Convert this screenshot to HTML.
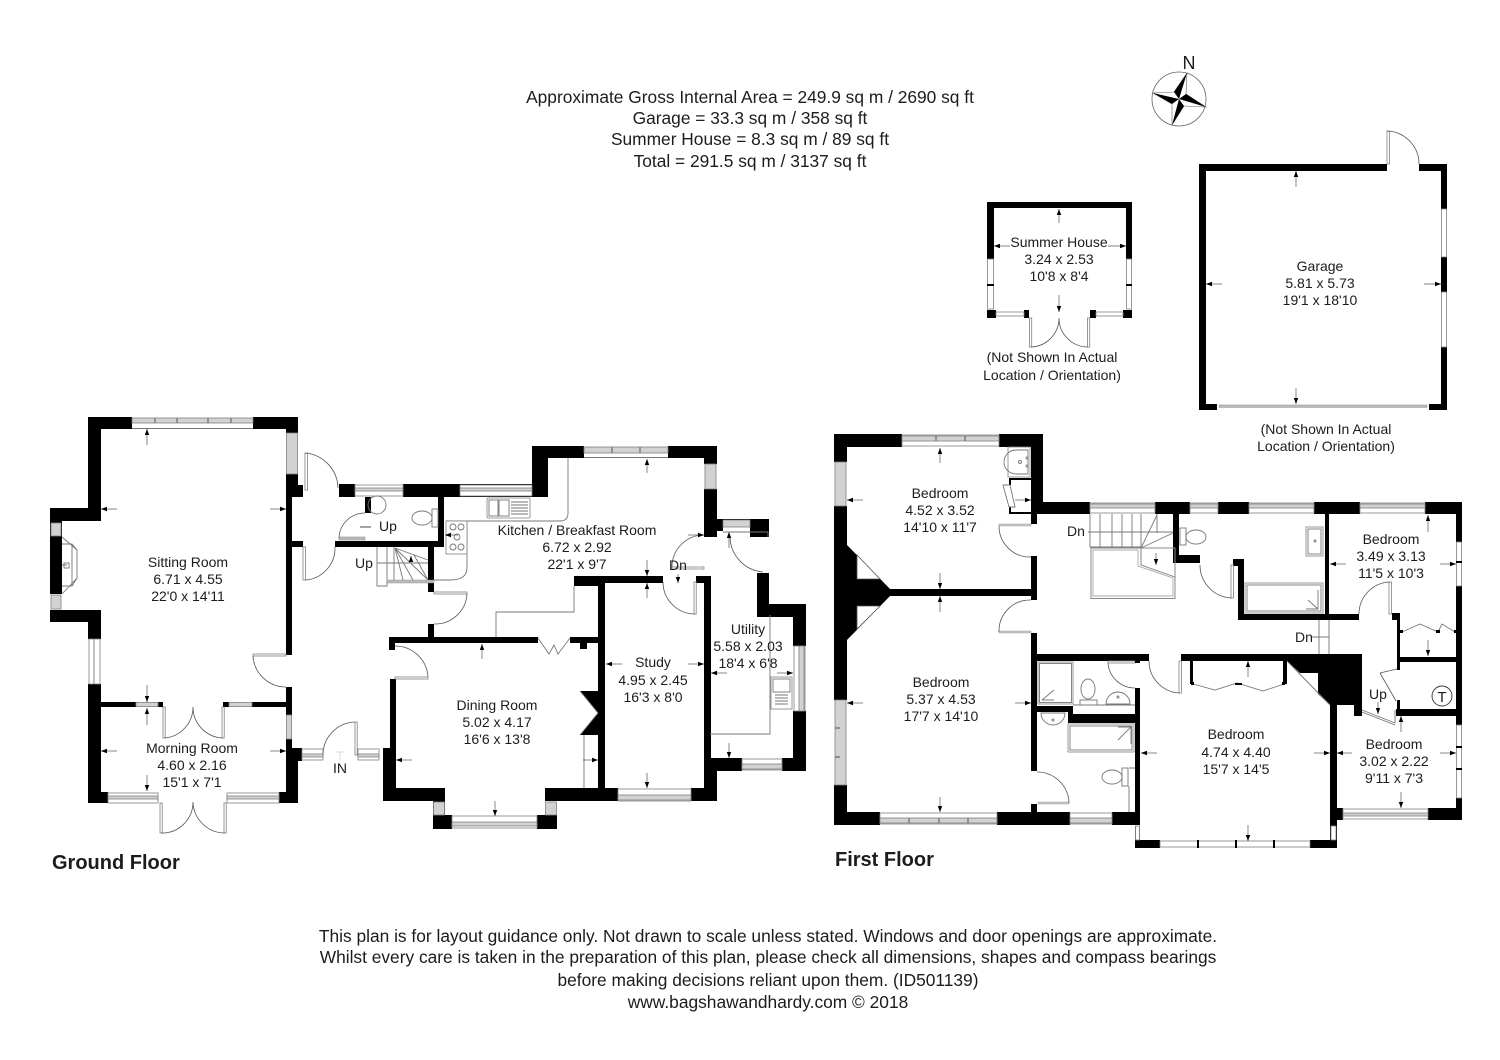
<!DOCTYPE html>
<html lang="en"><head><meta charset="utf-8"><title>Floor plan</title>
<style>
html,body{margin:0;padding:0;background:#fff}
svg{display:block}
text{font-family:"Liberation Sans",sans-serif;font-size:14px;fill:#1c1c1c;text-anchor:middle}
.h{font-size:17.35px}
.b{font-weight:bold;font-size:20px;text-anchor:start}
.k{fill:#000;stroke:none}
.w{fill:#d2d2d2;stroke:#808080;stroke-width:.8}
.l{fill:#fff;stroke:#808080;stroke-width:.8}
.t{fill:none;stroke:#777;stroke-width:.9}
.d{fill:none;stroke:#555;stroke-width:.8}
.a{fill:none;stroke:#555;stroke-width:.7;marker-end:url(#m)}
.mu{fill:none;stroke:#777;stroke-width:1.4}
</style></head><body>
<svg width="1500" height="1060" viewBox="0 0 1500 1060" xmlns="http://www.w3.org/2000/svg">
<defs><marker id="m" markerUnits="userSpaceOnUse" markerWidth="7" markerHeight="6" refX="6" refY="3" orient="auto"><path d="M0 .8L6 3L0 5.2z" fill="#000"/></marker></defs>
<rect width="1500" height="1060" fill="#fff"/>

<!-- header -->
<text class="h" x="750" y="103">Approximate Gross Internal Area = 249.9 sq m / 2690 sq ft</text>
<text class="h" x="750" y="124">Garage = 33.3 sq m / 358 sq ft</text>
<text class="h" x="750" y="145">Summer House = 8.3 sq m / 89 sq ft</text>
<text class="h" x="750" y="167">Total = 291.5 sq m / 3137 sq ft</text>

<!-- compass -->
<text x="1189" y="69" style="font-size:18px">N</text>
<circle cx="1179" cy="99" r="27" fill="#fff" stroke="#666" stroke-width=".8"/>
<path d="M1187 73L1186 94L1206 107L1184 106L1172 125L1172 104L1153 93L1174 92z" fill="#fff" stroke="#666" stroke-width=".6"/>
<path class="k" d="M1187 73L1179 99L1174 92zM1206 107L1179 99L1186 94zM1172 125L1179 99L1184 106zM1153 93L1179 99L1172 104z"/>

<!-- summer house -->
<path class="k" d="M987 202H1132V259H1126V208H994V259H987zM987 310H996V318H987zM1024 310H1029V318H1024zM1090 310H1096V318H1090zM1123 310H1132V318H1123z"/>
<rect class="l" x="987.5" y="259" width="6" height="50"/><rect class="l" x="1126.5" y="259" width="5" height="50"/>
<path class="k" d="M987 284h7v2h-7zM1126 284h6v2h-6z"/>
<rect class="l" x="996" y="312" width="28" height="4"/><rect class="l" x="1096" y="312" width="27" height="4"/>
<rect class="l" x="1029.5" y="318" width="2.2" height="29"/><rect class="l" x="1087.5" y="318" width="2.2" height="29"/>
<path class="d" d="M1031 347A29 29 0 0 0 1059 318M1088 347A29 29 0 0 1 1059 318"/>
<text x="1059" y="247">Summer House</text><text x="1059" y="264">3.24 x 2.53</text><text x="1059" y="281">10'8 x 8'4</text>
<text x="1052" y="362">(Not Shown In Actual</text><text x="1052" y="380">Location / Orientation)</text>
<path class="a" d="M1059 223V209"/><path class="a" d="M1010 246H994"/><path class="a" d="M1108 246H1126"/><path class="a" d="M1059 295V312"/>

<!-- garage -->
<path class="k" d="M1199 164H1387V171H1206V404H1217V410H1199zM1419 164H1447V209H1441V171H1419zM1441 257H1447V292H1441zM1441 347H1447V410H1429V404H1441z"/>
<rect class="l" x="1441.5" y="209" width="5" height="48"/><rect class="l" x="1441.5" y="292" width="5" height="55"/>
<rect x="1219" y="405" width="208" height="2.4" fill="#bdbdbd" stroke="#888" stroke-width=".5"/>
<rect class="l" x="1387" y="131" width="2.4" height="33"/>
<path class="d" d="M1387 131A33 33 0 0 1 1419 164"/>
<text x="1320" y="271">Garage</text><text x="1320" y="288">5.81 x 5.73</text><text x="1320" y="305">19'1 x 18'10</text>
<text x="1326" y="434">(Not Shown In Actual</text><text x="1326" y="451">Location / Orientation)</text>
<path class="a" d="M1296 187V171"/><path class="a" d="M1222 284H1206"/><path class="a" d="M1424 284H1441"/><path class="a" d="M1296 388V404"/>

<!-- GROUND FLOOR walls -->
<path class="k" d="M88 417H132V429H101V521H62V537H50V508H88z"/>
<path class="k" d="M50 537H62V594H50zM50 610H101V639H88V622H50z"/>
<path class="k" d="M88 684H101V792H108V803H88z"/>
<path class="k" d="M253 417H298V433H286V429H253z"/>
<path class="k" d="M286 474H298V485H303V497H292V655H286z"/>
<path class="k" d="M292 541H303V547H292z"/>
<path class="k" d="M286 687H292V715H286zM286 739H292V748H302V761H298V803H279V792H286z"/>
<path class="k" d="M101 702H136V707H101zM158 702H163V707H158zM223 702H229V707H223zM252 702H286V707H252z"/>
<path class="k" d="M339 484H355V497H339zM403 484H532V446H584V458H548V497H444V547H335V541H438V497H403z"/>
<path class="k" d="M365 497H371V513H365zM428 547H434V592H428zM428 624H434V637H428z"/>
<path class="k" d="M668 446H717V464H704V458H668z"/>
<path class="k" d="M704 489H717V519H750V519H769V537H750V527H723V531H717V537H704z"/>
<rect class="k" x="704" y="489" width="13" height="42"/>
<path class="k" d="M389 637H538V643H395V650H389zM570 637H598V586H574V576H663V583H605V788H618V801H545V815H537V829H557V815H545V801H545V788H598V643H587V649H580V643H570z"/>
<path class="k" d="M696 576H711V788H717V801H691V788H704V583H696z"/>
<path class="k" d="M711 758H742V771H717V801H711z"/>
<path class="k" d="M757 573H769V604H806V646H793V617H757zM793 711H806V771H782V758H793z"/>
<path class="k" d="M390 679H396V788H445V801H433V829H452V815H445V801H383V748H390z"/>
<path class="k" d="M580 691H598V735H580L598 713z"/>
<path class="k" d="M537 815H557V829H537z"/>
<!-- windows GF -->
<rect class="w" x="132" y="418" width="121" height="5"/><path class="t" d="M132 428.500H253"/>
<path class="mu" d="M155 418v5M177 418v5M208 418v5M231 418v5"/>
<rect class="w" x="286.500" y="433" width="11" height="41"/>
<rect class="w" x="51" y="523" width="10" height="13"/><rect class="w" x="51" y="595" width="10" height="14"/>
<rect class="l" x="89" y="639" width="11" height="45"/><path class="t" d="M94 639V684"/>
<rect class="l" x="108" y="793" width="50" height="10"/><rect class="w" x="108" y="796" width="50" height="3"/>
<rect class="l" x="227" y="793" width="52" height="10"/><rect class="w" x="227" y="796" width="52" height="3"/>
<rect class="w" x="136" y="702.500" width="22" height="4"/><rect class="w" x="229" y="702.500" width="23" height="4"/>
<rect class="w" x="286.500" y="715" width="5" height="24"/>
<rect class="l" x="355" y="485" width="48" height="11"/><rect class="w" x="355" y="488" width="48" height="3"/>
<rect class="l" x="460" y="485" width="72" height="11"/><rect class="w" x="460" y="488" width="72" height="3"/>
<rect class="w" x="584" y="447" width="84" height="6"/><path class="t" d="M584 457.500H668"/>
<path class="mu" d="M612 447v6M640 447v6"/>
<rect class="w" x="705" y="464" width="11" height="25"/>
<rect class="w" x="723" y="520" width="27" height="7"/><path class="t" d="M723 532H768V537"/>
<rect class="l" x="794" y="646" width="11" height="65"/><rect class="w" x="799" y="646" width="5" height="65"/>
<rect class="l" x="742" y="759" width="40" height="11"/><rect class="w" x="742" y="764" width="40" height="5"/>
<rect class="l" x="618" y="789" width="73" height="12"/><rect class="w" x="618" y="795" width="73" height="5"/>
<rect class="l" x="302" y="749" width="21" height="11"/><rect class="w" x="302" y="754" width="21" height="3"/>
<rect class="l" x="358" y="749" width="21" height="11"/><rect class="w" x="358" y="754" width="21" height="3"/>
<rect class="w" x="433.500" y="802" width="11" height="13"/><rect class="w" x="545.500" y="802" width="11" height="13"/>
<rect class="l" x="452" y="816" width="85" height="12"/><rect class="w" x="452" y="822" width="85" height="4"/>
<!-- fireplace GF -->
<path class="t" d="M62 537L77 550V578L62 594M62 544H72L77 550M62 586H72L77 578M72 544V586M62 565H67"/>
<rect class="t" x="64" y="563" width="5" height="5"/>
<!-- doors GF -->
<rect class="l" x="305" y="453" width="2.6" height="37"/><path class="d" d="M305 453A36 36 0 0 1 338 488"/>
<rect x="339" y="537" width="26" height="3" fill="#bbb" stroke="#888" stroke-width=".5"/><path class="d" d="M365 513A26 26 0 0 0 339 538"/>
<rect class="l" x="303" y="547" width="2.6" height="33"/><path class="d" d="M335 547A32 32 0 0 1 305 580"/>
<rect class="l" x="253" y="654" width="33" height="2"/><path class="d" d="M253 656A33 33 0 0 0 286 687"/>
<rect class="l" x="163" y="707" width="2.2" height="31"/><rect class="l" x="222" y="707" width="2.2" height="31"/>
<path class="d" d="M164 738A31 31 0 0 0 193 707M223 738A31 31 0 0 1 193 707"/>
<rect class="l" x="160" y="803" width="2.2" height="30"/><rect class="l" x="224" y="803" width="2.2" height="30"/>
<path class="d" d="M161 833A31 31 0 0 0 193 802M225 833A32 32 0 0 1 193 802"/>
<rect class="l" x="355" y="722" width="2.2" height="33"/><path class="d" d="M323 755A33 33 0 0 1 355 722"/>
<rect class="l" x="395" y="677" width="33" height="2"/><path class="d" d="M395 646A33 33 0 0 1 428 677"/>
<rect class="l" x="434" y="592" width="33" height="2"/><path class="d" d="M467 594A32 32 0 0 1 434 624"/>
<rect class="l" x="672" y="567" width="32" height="2"/><path class="d" d="M704 535A32 32 0 0 0 672 567"/>
<rect class="l" x="694" y="582" width="2.2" height="32"/><path class="d" d="M663 582A32 32 0 0 0 695 614"/>
<path class="d" d="M730 537A36 36 0 0 0 763 572"/>
<path class="t" d="M538 638L549 654L554 645L558 654L570 638"/>
<!-- stairs GF -->
<path class="t" d="M377 547V586H387V581H428M387 547V581M394 547V581M377 563H428M395 548L428 560M395 548L428 580M395 548L413 580M395 548L403 580M414 555L428 580"/>
<rect x="387" y="580" width="47" height="3" fill="#bbb" stroke="#888" stroke-width=".4"/>
<path class="a" d="M411 562V556"/>
<text x="364" y="568">Up</text><text x="388" y="531">Up</text>
<path class="t" d="M371 527H360" style="stroke:#333"/>
<!-- kitchen units -->
<path class="t" d="M568 458V513Q568 521 560 521H446M467 521V568Q467 580 450 580H434M574 586V612H496V637M584 735V788M710 734H770V615"/>
<rect class="l" x="446" y="521" width="21" height="33"/>
<g class="t"><circle cx="453" cy="527" r="3"/><circle cx="461" cy="527" r="3"/><circle cx="457" cy="537" r="3"/><circle cx="453" cy="547" r="3"/><circle cx="461" cy="547" r="3"/></g>
<rect class="l" x="487" y="498" width="43" height="20" rx="1"/>
<rect class="t" x="489" y="500" width="9" height="16"/><rect class="t" x="499" y="500" width="10" height="16"/>
<path class="t" d="M511 502H528M511 505H528M511 508H528M511 511H528M511 514H528"/>
<rect class="l" x="771" y="677" width="21" height="32"/><rect class="t" x="773" y="679" width="17" height="13"/>
<path class="t" d="M775 695H788M775 698H788M775 701H788M775 704H788"/>
<!-- WC GF -->
<ellipse class="t" cx="422" cy="518" rx="10" ry="7"/><rect class="t" x="432" y="509" width="6" height="18"/>
<circle class="t" cx="377" cy="505" r="9"/>
<!-- chimney dining outline -->
<path class="t" d="M580 691L598 713L580 735"/>
<!-- GF labels -->
<text x="188" y="567">Sitting Room</text><text x="188" y="584">6.71 x 4.55</text><text x="188" y="601">22'0 x 14'11</text>
<text x="192" y="753">Morning Room</text><text x="192" y="770">4.60 x 2.16</text><text x="192" y="787">15'1 x 7'1</text>
<text x="577" y="535">Kitchen / Breakfast Room</text><text x="577" y="552">6.72 x 2.92</text><text x="577" y="569">22'1 x 9'7</text>
<text x="497" y="710">Dining Room</text><text x="497" y="727">5.02 x 4.17</text><text x="497" y="744">16'6 x 13'8</text>
<text x="653" y="667">Study</text><text x="653" y="685">4.95 x 2.45</text><text x="653" y="702">16'3 x 8'0</text>
<text x="748" y="634">Utility</text><text x="748" y="651">5.58 x 2.03</text><text x="748" y="668">18'4 x 6'8</text>
<text x="678" y="570">Dn</text><text x="340" y="773">IN</text>
<text class="b" x="52" y="869">Ground Floor</text>
<!-- GF arrows -->
<path class="a" d="M147 445V429"/><path class="a" d="M117 509H101"/><path class="a" d="M270 509H286"/><path class="a" d="M147 685V702"/>
<path class="a" d="M147 725V708"/><path class="a" d="M117 751H101"/><path class="a" d="M270 751H286"/><path class="a" d="M147 775V791"/>
<path class="a" d="M647 473V459"/><path class="a" d="M458 535H445"/><path class="a" d="M688 535H704"/><path class="a" d="M647 560V576"/>
<path class="a" d="M647 598V583"/><path class="a" d="M622 664H606"/><path class="a" d="M688 664H704"/><path class="a" d="M647 773V788"/>
<path class="a" d="M482 659V644"/><path class="a" d="M412 760H396"/><path class="a" d="M583 760H598"/><path class="a" d="M495 801V816"/>
<path class="a" d="M729 548V532"/><path class="a" d="M727 673H711"/><path class="a" d="M777 673H793"/><path class="a" d="M729 743V758"/>
<path class="a" d="M678 574V583"/>
<path d="M340 751V760M336 752H344" fill="none" stroke="#ddd"/>

<!-- FIRST FLOOR walls -->
<path class="k" d="M834 434H902V447H847V462H834z"/>
<path class="k" d="M999 434H1043V502H1090V514H1037V524H1031V447H999z"/>
<path class="k" d="M834 506H847V545L890 589H1031V556H1037V600H1031V596H890L847 640V700H834z"/>
<path d="M857 555L880 579H857zM857 606H880L857 629z" fill="#fff" stroke="#555" stroke-width=".8"/>
<path class="k" d="M834 785H847V812H880V825H834z"/>
<path class="k" d="M997 812H1031V804H1037V812H1070V825H997zM1112 812H1135V688H1140V825H1112z"/>
<path class="k" d="M1031 633H1037V654H1149V661H1037V706H1073V714H1135V723H1068V712H1037V771H1031z"/>
<path class="k" d="M1155 502H1190V514H1179V555H1200V563H1173V514H1155z"/>
<path class="k" d="M1218 502H1249V514H1218zM1314 502H1360V514H1329V614H1359V620H1238V566H1233V559H1244V614H1325V514H1314z"/>
<path class="k" d="M1425 502H1462V542H1456V514H1425zM1456 586H1462V725H1456V716H1396V709H1397V700H1400V709H1456V662H1400V670H1397V620H1392V613H1400V657H1456z"/>
<path class="k" d="M1456 798H1462V820H1428V808H1456z"/>
<path class="k" d="M1181 654H1362V716H1354V705H1337V808H1343V820H1337V848H1310V840H1330V705L1318 694V673H1300L1287 661H1193V684H1190V661H1181z"/>
<path class="k" d="M1283 661H1287V684H1283z"/>
<path class="t" d="M1287 661L1330 705"/>
<path class="k" d="M1135 826H1140V840H1160V848H1135z"/>
<!-- windows FF -->
<rect class="l" x="902" y="435" width="97" height="11"/><rect class="w" x="902" y="436" width="97" height="5"/>
<path class="mu" d="M936 436v5M965 436v5"/>
<rect class="w" x="835" y="462" width="11" height="44"/>
<rect class="w" x="835" y="700" width="11" height="85"/>
<path class="mu" d="M835 728h5M835 757h5"/>
<rect class="l" x="880" y="813" width="117" height="11"/><rect class="w" x="880" y="818" width="117" height="5"/>
<path class="mu" d="M909 818v5M939 818v5M968 818v5"/>
<rect class="l" x="1070" y="813" width="42" height="11"/><rect class="w" x="1070" y="818" width="42" height="5"/>
<rect class="l" x="1090" y="503" width="65" height="10"/><rect class="w" x="1090" y="504" width="65" height="4"/>
<rect class="l" x="1190" y="503" width="28" height="10"/><rect class="w" x="1190" y="504" width="28" height="4"/>
<rect class="l" x="1249" y="503" width="65" height="10"/><rect class="w" x="1249" y="504" width="65" height="4"/>
<rect class="l" x="1360" y="503" width="65" height="10"/><rect class="w" x="1360" y="504" width="65" height="4"/>
<rect class="l" x="1456.500" y="542" width="5" height="44"/><path class="k" d="M1456 561h6v2h-6z"/>
<rect class="l" x="1456.500" y="725" width="5" height="73"/><path class="k" d="M1456 746h6v2h-6zM1456 768h6v2h-6z"/>
<rect class="l" x="1343" y="809" width="85" height="10"/><rect class="w" x="1343" y="813" width="85" height="3"/>
<rect class="l" x="1160" y="841" width="150" height="6"/><path class="k" d="M1197 840h2v8h-2zM1235 840h2v8h-2zM1273 840h2v8h-2z"/>
<rect class="l" x="1135.500" y="826" width="4" height="14"/><rect class="l" x="1331" y="826" width="5" height="14"/>
<!-- doors FF -->
<rect x="999" y="524" width="32" height="2" fill="#ccc" stroke="#888" stroke-width=".4"/><path class="d" d="M999 526A31 31 0 0 0 1031 557"/>
<rect x="999" y="631" width="32" height="2" fill="#ccc" stroke="#888" stroke-width=".4"/><path class="d" d="M1031 600A31 31 0 0 0 999 632"/>
<rect x="1038" y="802" width="31" height="2" fill="#ccc" stroke="#888" stroke-width=".4"/><path class="d" d="M1037 772A32 32 0 0 1 1069 803"/>
<rect class="l" x="1108" y="661" width="27" height="2"/><path class="d" d="M1108 663A27 27 0 0 0 1135 688"/>
<path class="k" d="M1135 661H1140V663H1135z"/>
<rect class="l" x="1179" y="661" width="2.4" height="32"/><path class="d" d="M1149 661A32 32 0 0 0 1180 693"/>
<rect class="l" x="1231" y="565" width="2.4" height="33"/><path class="d" d="M1200 565A33 33 0 0 0 1232 598"/>
<rect class="l" x="1389" y="582" width="2.4" height="32"/><path class="d" d="M1359 614A32 32 0 0 1 1390 582"/>
<path class="d" d="M1380 673L1397 669M1380 673L1396 701"/>
<path class="t" d="M1362 710L1395 723V710M1362 712L1395 725"/>
<!-- built-ins FF -->
<rect class="l" x="1008" y="447" width="22" height="30"/>
<path class="t" d="M1028 450H1016A12 12 0 0 0 1016 474H1028z"/><circle class="t" cx="1020" cy="462" r="1.500"/><circle class="t" cx="1027" cy="458" r="1"/><circle class="t" cx="1027" cy="466" r="1"/>
<path class="k" d="M1009 478H1031V480H1011V485H1009zM1009 507H1011V512H1031V514H1009z"/>
<path class="t" d="M1003 485H1010L1015 507H1009z"/>
<rect class="l" x="1038" y="662" width="35" height="42"/><rect class="t" x="1039.500" y="663.500" width="32" height="39"/>
<path class="t" d="M1042 700H1054M1042 700L1054 690"/>
<ellipse class="t" cx="1088" cy="689" rx="7" ry="10"/><rect class="t" x="1080" y="700" width="17" height="5"/>
<path class="t" d="M1073 705H1135"/>
<path class="t" d="M1106 704A12 12 0 0 1 1130 704z"/><circle class="t" cx="1118" cy="697" r="1"/>
<path class="t" d="M1041 713H1065A12 12 0 0 1 1041 713z"/><circle class="t" cx="1053" cy="720" r="1"/>
<rect class="l" x="1068" y="724" width="66" height="28"/><rect class="t" x="1070" y="726" width="62" height="24"/>
<path class="t" d="M1131 727V744M1118 727H1131L1118 740"/>
<ellipse class="t" cx="1112" cy="777" rx="10" ry="7"/><rect class="t" x="1122" y="768" width="6" height="18"/>
<path class="t" d="M1129 768H1135M1129 786V812"/>
<ellipse class="t" cx="1196" cy="537" rx="10" ry="7"/><rect class="t" x="1180" y="528" width="6" height="17"/>
<rect class="l" x="1306" y="527" width="17" height="29"/><rect class="t" x="1308" y="529" width="13" height="25"/><circle class="t" cx="1315" cy="541" r="1"/>
<rect class="l" x="1245" y="583" width="78" height="30"/><rect class="t" x="1247" y="585" width="74" height="26"/>
<path class="t" d="M1318 590V609M1306 609H1318M1308 600L1318 609"/>
<path class="t" d="M1402 632L1420 624L1438 632L1442 624L1455 632"/>
<path class="k" d="M1400 630h3v3h-3zM1436 630h4v3h-4zM1454 630h2v3h-2z"/>
<path class="t" d="M1193 684L1215 690L1237 683L1263 691L1284 684"/>
<path class="k" d="M1235 683h7v2h-7zM1191 682h3v3h-3zM1282 682h3v3h-3z"/>
<circle class="t" cx="1442" cy="696" r="10" style="stroke:#333"/>
<text x="1442" y="702" style="font-size:15px">T</text>
<path class="t" d="M1319 620V654M1329 620V654M1312 637H1329"/>
<!-- stairs FF -->
<path class="t" d="M1090 514V547H1141M1100 514V547M1112 514V547M1122 514V547M1132 514V547M1141 514V548M1157 514V533M1088 532H1173M1141 548L1157 515M1141 548L1173 533M1141 533V565L1175 577"/>
<rect x="1091" y="548" width="84" height="50.500" fill="none" stroke="#888"/>
<path class="t" d="M1093 550H1138V566L1173 578V596H1093z" style="stroke:#aaa"/>
<path class="a" d="M1156 553V565"/>
<!-- FF labels -->
<text x="940" y="498">Bedroom</text><text x="940" y="515">4.52 x 3.52</text><text x="940" y="532">14'10 x 11'7</text>
<text x="941" y="687">Bedroom</text><text x="941" y="704">5.37 x 4.53</text><text x="941" y="721">17'7 x 14'10</text>
<text x="1391" y="544">Bedroom</text><text x="1391" y="561">3.49 x 3.13</text><text x="1391" y="578">11'5 x 10'3</text>
<text x="1236" y="739">Bedroom</text><text x="1236" y="757">4.74 x 4.40</text><text x="1236" y="774">15'7 x 14'5</text>
<text x="1394" y="749">Bedroom</text><text x="1394" y="766">3.02 x 2.22</text><text x="1394" y="783">9'11 x 7'3</text>
<text x="1076" y="536">Dn</text><text x="1304" y="642">Dn</text><text x="1378" y="699">Up</text>
<text class="b" x="835" y="866">First Floor</text>
<!-- FF arrows -->
<path class="a" d="M940 463V448"/><path class="a" d="M863 500H847"/><path class="a" d="M1015 500H1031"/><path class="a" d="M940 573V589"/>
<path class="a" d="M940 612V596"/><path class="a" d="M863 703H847"/><path class="a" d="M1015 703H1031"/><path class="a" d="M940 797V812"/>
<path class="a" d="M1248 677V661"/><path class="a" d="M1157 753H1141"/><path class="a" d="M1314 753H1330"/><path class="a" d="M1248 825V841"/>
<path class="a" d="M1428 532V515"/><path class="a" d="M1346 564H1330"/><path class="a" d="M1440 564H1456"/><path class="a" d="M1428 640V656"/>
<path class="a" d="M1401 732V716"/><path class="a" d="M1352 753H1337"/><path class="a" d="M1440 753H1456"/><path class="a" d="M1401 792V808"/>
<path class="a" d="M1378 702V714"/>

<!-- footer -->
<text class="h" x="768" y="942">This plan is for layout guidance only. Not drawn to scale unless stated. Windows and door openings are approximate.</text>
<text class="h" x="768" y="963">Whilst every care is taken in the preparation of this plan, please check all dimensions, shapes and compass bearings</text>
<text class="h" x="768" y="986">before making decisions reliant upon them. (ID501139)</text>
<text class="h" x="768" y="1008">www.bagshawandhardy.com © 2018</text>
</svg>
</body></html>
